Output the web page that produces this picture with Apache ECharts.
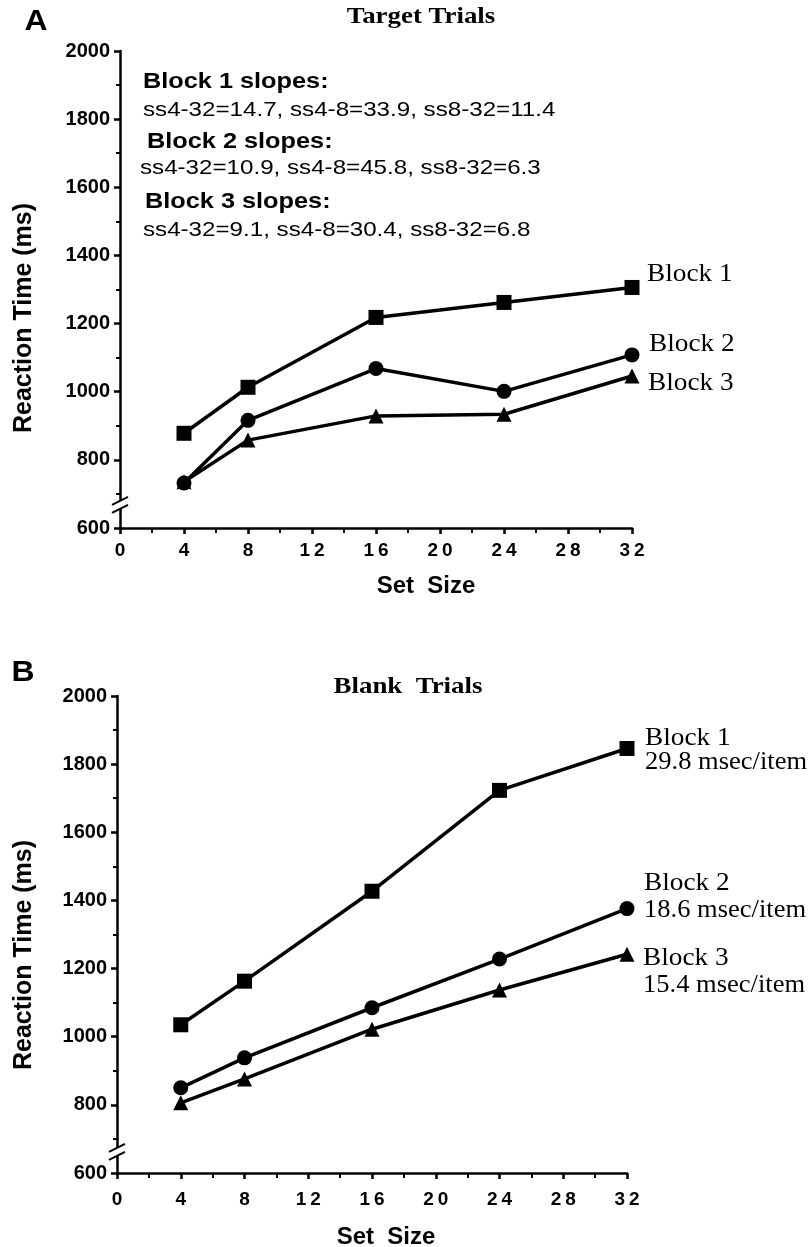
<!doctype html>
<html>
<head>
<meta charset="UTF-8">
<title>Target and Blank Trials</title>
<script src="https://cdn.jsdelivr.net/npm/echarts@6/dist/echarts.min.js"></script>
<style>
  html, body { margin: 0; padding: 0; background: #fff; }
  #main { width: 811px; height: 1247px; }
</style>
</head>
<body>
<div id="main"></div>
<script>
// set sizes on the x axis
var setSizes = [4, 8, 16, 24, 32];

// panel A - target trials (ms)
var targetBlock1 = [878, 1013, 1218, 1262, 1306];
var targetBlock2 = [732, 916, 1068, 1001, 1108];
var targetBlock3 = [736, 858, 929, 934, 1046];

// panel B - blank trials (ms)
var blankBlock1 = [1035, 1163, 1427, 1723, 1846];
var blankBlock2 = [850, 938, 1085, 1228, 1376];
var blankBlock3 = [806, 876, 1022, 1137, 1242];

var slopeNotes = [
  ['Block 1 slopes:', 'ss4-32=14.7, ss4-8=33.9, ss8-32=11.4'],
  ['Block 2 slopes:', 'ss4-32=10.9, ss4-8=45.8, ss8-32=6.3'],
  ['Block 3 slopes:', 'ss4-32=9.1, ss4-8=30.4, ss8-32=6.8']
];
var blankSlopes = ['29.8 msec/item', '18.6 msec/item', '15.4 msec/item'];

var SANS = '"Liberation Sans", Arial, sans-serif';
var SERIF = '"Liberation Serif", "Times New Roman", serif';

function pairs(ys) {
  return setSizes.map(function (x, i) { return [x, ys[i]]; });
}

function xAxisFor(grid, margin) {
  return {
    type: 'value', gridIndex: grid, min: 0, max: 32, interval: 4,
    axisLine: { onZero: false, lineStyle: { color: '#000', width: 2.5 } },
    axisTick: { length: 6, lineStyle: { color: '#000', width: 2.5 } },
    minorTick: { show: true, splitNumber: 2, length: 5, lineStyle: { color: '#000', width: 2 } },
    splitLine: { show: false },
    axisLabel: {
      margin: margin, color: '#000', fontFamily: SANS, fontWeight: 'bold', fontSize: 19,
      showMinLabel: true, showMaxLabel: true,
      formatter: function (v) { return String(v).split('').join('\u2009'); }
    }
  };
}

function yAxisFor(grid) {
  return {
    type: 'value', gridIndex: grid, min: 600, max: 2000, interval: 200,
    axisLine: { show: true, onZero: false, lineStyle: { color: '#000', width: 2.5 } },
    axisTick: { show: true, length: 6, lineStyle: { color: '#000', width: 2.5 } },
    minorTick: { show: true, splitNumber: 2, length: 4, lineStyle: { color: '#000', width: 2 } },
    splitLine: { show: false },
    axisLabel: {
      margin: 10, color: '#000', fontFamily: SANS, fontWeight: 'bold', fontSize: 20,
      showMinLabel: true, showMaxLabel: true,
      formatter: function (v) { return String(v); }
    }
  };
}

function lineSeries(grid, ys, symbol) {
  return {
    type: 'line', xAxisIndex: grid, yAxisIndex: grid,
    data: pairs(ys),
    symbol: symbol, symbolSize: 15,
    lineStyle: { color: '#000', width: 3.5 },
    itemStyle: { color: '#000' },
    emphasis: { disabled: true }
  };
}

function txt(x, y, s, font, size, weight, align, sx, rot) {
  return {
    type: 'text', x: x, y: y, rotation: rot || 0, scaleX: sx || 1, silent: true,
    style: {
      text: s, fill: '#000', font: weight + ' ' + size + 'px ' + font,
      align: align, verticalAlign: 'middle'
    }
  };
}

var chart = echarts.init(document.getElementById('main'), null, { renderer: 'canvas' });

chart.setOption({
  animation: false,
  backgroundColor: '#fff',
  grid: [
    { left: 120, top: 51, width: 512, height: 477, outerBoundsMode: 'none', containLabel: false },
    { left: 117, top: 696, width: 510, height: 477, outerBoundsMode: 'none', containLabel: false }
  ],
  xAxis: [xAxisFor(0, 13), xAxisFor(1, 17)],
  yAxis: [yAxisFor(0), yAxisFor(1)],
  series: [
    lineSeries(0, targetBlock1, 'rect'),
    lineSeries(0, targetBlock3, 'triangle'),
    lineSeries(0, targetBlock2, 'circle'),
    lineSeries(1, blankBlock1, 'rect'),
    lineSeries(1, blankBlock3, 'triangle'),
    lineSeries(1, blankBlock2, 'circle')
  ]
});

var g = [];

// panel letters and titles
g.push(txt(36, 22, 'A', SANS, 29, 'bold', 'center', 1.1));
g.push(txt(23, 673, 'B', SANS, 29, 'bold', 'center', 1.1));
g.push(txt(421, 17, 'Target Trials', SERIF, 24, 'bold', 'center', 1.12));
g.push(txt(408, 687, 'Blank  Trials', SERIF, 24, 'bold', 'center', 1.12));

// axis names
g.push(txt(426, 586, 'Set  Size', SANS, 24, 'bold', 'center'));
g.push(txt(386, 1237, 'Set  Size', SANS, 24, 'bold', 'center'));
g.push(txt(24, 318, 'Reaction Time (ms)', SANS, 25, 'bold', 'center', 1, Math.PI / 2));
g.push(txt(24, 955, 'Reaction Time (ms)', SANS, 25, 'bold', 'center', 1, Math.PI / 2));

// slope notes in panel A
var noteRows = [[143, 82, 143, 110], [147, 142, 140, 168], [145, 202, 143, 230]];
slopeNotes.forEach(function (n, i) {
  var r = noteRows[i];
  g.push(txt(r[0], r[1], n[0], SANS, 22, 'bold', 'left', 1.15));
  g.push(txt(r[2], r[3], n[1], SANS, 21, 'normal', 'left', 1.15));
});

// block labels
g.push(txt(647, 274, 'Block 1', SERIF, 26, 'normal', 'left', 1.05));
g.push(txt(649, 344, 'Block 2', SERIF, 26, 'normal', 'left', 1.05));
g.push(txt(648, 383, 'Block 3', SERIF, 26, 'normal', 'left', 1.05));
var blankRows = [[645, 738, 762], [644, 883, 910], [643, 958, 985]];
blankRows.forEach(function (r, i) {
  g.push(txt(r[0], r[1], 'Block ' + (i + 1), SERIF, 26, 'normal', 'left', 1.05));
  g.push(txt(r[0], r[2], blankSlopes[i], SERIF, 26, 'normal', 'left', 1.02));
});

// axis break marks on both y axes
[[0, 668], [1, 662]].forEach(function (b) {
  var p = chart.convertToPixel({ gridIndex: b[0] }, [0, b[1]]);
  g.push({
    type: 'rect', silent: true, z: 100,
    shape: { x: p[0] - 3, y: p[1] - 4, width: 6, height: 8 },
    style: { fill: '#fff' }
  });
  [-4, 4].forEach(function (d) {
    g.push({
      type: 'line', silent: true, z: 101,
      shape: { x1: p[0] - 8, y1: p[1] + d + 4, x2: p[0] + 8, y2: p[1] + d - 4 },
      style: { stroke: '#000', lineWidth: 2 }
    });
  });
});

chart.setOption({ graphic: g });
</script>
</body>
</html>
